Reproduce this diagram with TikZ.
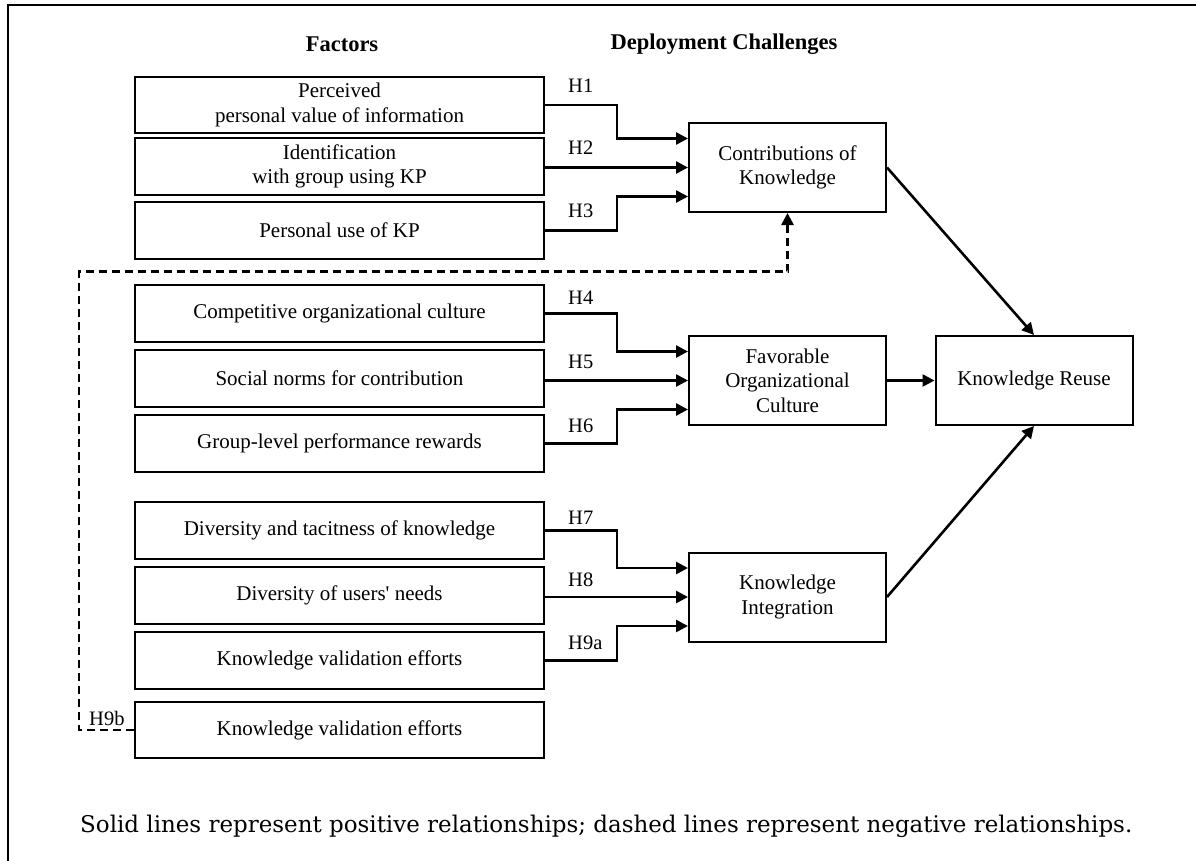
\documentclass[tikz,border=0pt]{standalone}
\usepackage{fontspec}
\setmainfont{Liberation Serif}
\newfontfamily\capfont{DejaVu Serif}
\usetikzlibrary{arrows.meta}
\tikzset{
  fbox/.style={draw, line width=2pt, minimum width=409pt, minimum height=56.5pt, align=center, inner sep=0pt,
    font=\fontsize{21}{24.5}\selectfont},
  cbox/.style={draw, line width=2pt, minimum width=197pt, minimum height=89pt, align=center, inner sep=0pt,
    font=\fontsize{21}{24.5}\selectfont},
  arr/.style={line width=2.6pt, -{Triangle[length=12pt,width=12pt]}},
  darr/.style={arr, dashed, dash pattern=on 8pt off 5pt},
  hlab/.style={anchor=base west, inner sep=0pt, font=\fontsize{20.5}{24}\selectfont},
  ttl/.style={inner sep=0pt, font=\fontsize{22.5}{26}\selectfont\bfseries},
}
\begin{document}
\begin{tikzpicture}[x=1pt, y=-1pt]
\useasboundingbox (0,0) rectangle (1196,861);
\draw[line width=2.4pt] (8,861) -- (8,5) -- (1196,5);

\node[ttl] (tf) at (342,44) {Factors};
\node[ttl] (td) at (724,44) {Deployment Challenges};

\node[fbox] (f1) at (339.5,105) {Perceived\\personal value of information};
\node[fbox] (f2) at (339.5,166.5) {Identification\\with group using KP};
\node[fbox] (f3) at (339.5,230.5) {Personal use of KP};
\node[fbox] (f4) at (339.5,313.5) {Competitive organizational culture};
\node[fbox] (f5) at (339.5,378.5) {Social norms for contribution};
\node[fbox] (f6) at (339.5,443.5) {Group-level performance rewards};
\node[fbox] (f7) at (339.5,530.5) {Diversity and tacitness of knowledge};
\node[fbox] (f8) at (339.5,595.5) {Diversity of users\textquotesingle\ needs};
\node[fbox] (f9) at (339.5,660.5) {Knowledge validation efforts};
\node[fbox] (f10) at (339.5,730) {Knowledge validation efforts};

\node[cbox] (cok) at (787.5,167.5) {Contributions of\\Knowledge};
\node[cbox] (fav) at (787.5,380.5) {Favorable\\Organizational\\Culture};
\node[cbox] (ki) at (787.5,597) {Knowledge\\Integration};
\node[cbox] (kr) at (1034,380.5) {Knowledge Reuse};

\coordinate (cx) at (617,0);
\coordinate (dl) at (79,271.5);
\coordinate (dm) at (787.5,271.5);

% group 1
\draw[arr] (f1.east) -- (f1.east -| cx) |- ([yshift=29pt]cok.west);
\draw[arr] (f2.east |- cok.west) -- (cok.west);
\draw[arr] (f3.east) -- (f3.east -| cx) |- ([yshift=-29pt]cok.west);
% group 2
\draw[arr] (f4.east) -- (f4.east -| cx) |- ([yshift=29pt]fav.west);
\draw[arr] (f5.east |- fav.west) -- (fav.west);
\draw[arr] (f6.east) -- (f6.east -| cx) |- ([yshift=-29pt]fav.west);
% group 3
\draw[arr] (f7.east) -- (f7.east -| cx) |- ([yshift=29pt]ki.west);
\draw[arr] (f8.east |- ki.west) -- (ki.west);
\draw[arr] (f9.east) -- (f9.east -| cx) |- ([yshift=-29pt]ki.west);
% dashed H9b
\draw[darr] (f10.west) -| (dl) -- (dm) -- (cok.south);

% to reuse
\draw[arr] (cok.east) -- (kr.north);
\draw[arr] (fav.east) -- (kr.west);
\draw[arr] (ki.east) -- (kr.south);

% labels
\node[hlab] (h1) at (568,93) {H1};
\node[hlab] (h2) at (568,155) {H2};
\node[hlab] (h3) at (568,217) {H3};
\node[hlab] (h4) at (568,304) {H4};
\node[hlab] (h5) at (568,368) {H5};
\node[hlab] (h6) at (568,432) {H6};
\node[hlab] (h7) at (568,524) {H7};
\node[hlab] (h8) at (568,586) {H8};
\node[hlab] (h9a) at (568,649) {H9a};
\node[hlab] (h9b) at (89,725) {H9b};

\node[anchor=base west, inner sep=0pt] (cap) at (80,832)
  {\resizebox{1052pt}{!}{\capfont\fontsize{23}{28}\selectfont Solid lines represent positive relationships; dashed lines represent negative relationships.}};
\end{tikzpicture}
\end{document}
